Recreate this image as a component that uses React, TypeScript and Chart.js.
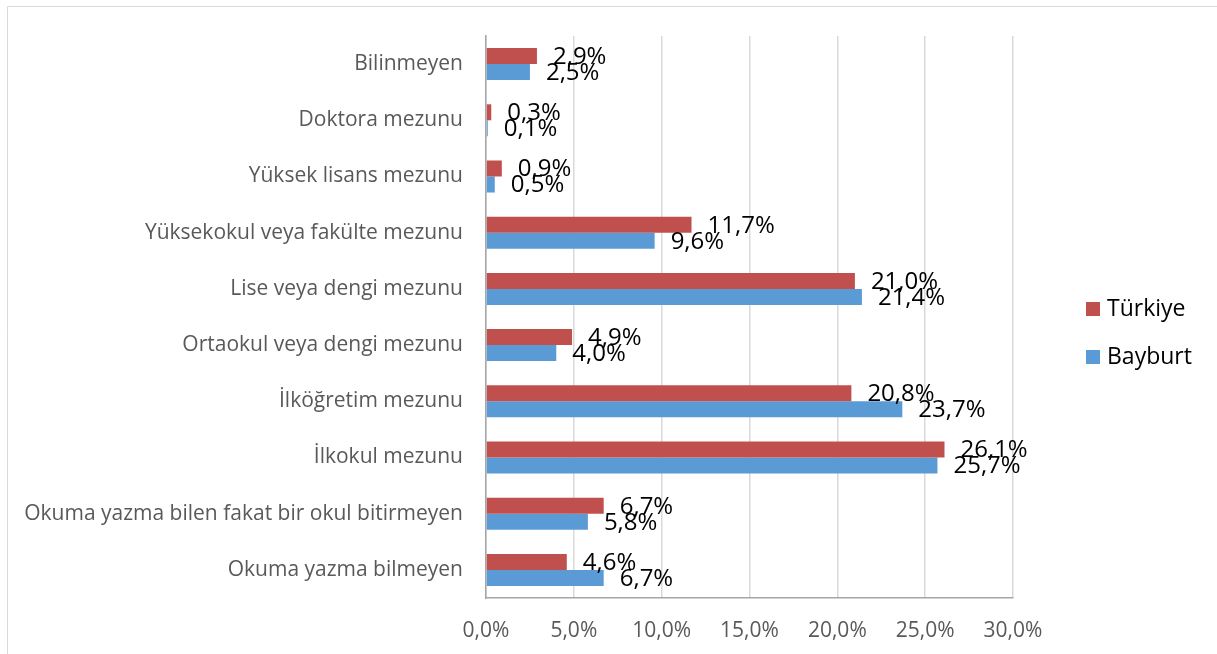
import React, { useEffect, useRef } from "react";
import { Chart, registerables } from "chart.js";

Chart.register(...registerables);

const categories = [
  "Bilinmeyen",
  "Doktora mezunu",
  "Yüksek lisans mezunu",
  "Yüksekokul veya fakülte mezunu",
  "Lise veya dengi mezunu",
  "Ortaokul veya dengi mezunu",
  "İlköğretim mezunu",
  "İlkokul mezunu",
  "Okuma yazma bilen fakat bir okul bitirmeyen",
  "Okuma yazma bilmeyen",
];
const turkiye = [2.9, 0.3, 0.9, 11.7, 21.0, 4.9, 20.8, 26.1, 6.7, 4.6];
const bayburt = [2.5, 0.1, 0.5, 9.6, 21.4, 4.0, 23.7, 25.7, 5.8, 6.7];
const xTicks = [0, 5, 10, 15, 20, 25, 30];

const FONT = "'Open Sans', 'Noto Sans', sans-serif";
const fmt = (v: number) => v.toFixed(1).replace(".", ",") + "%";

const framePlugin = {
  id: "frame",
  beforeDraw(chart: any) {
    const ctx = chart.ctx;
    ctx.save();
    ctx.strokeStyle = "#D9D9D9";
    ctx.lineWidth = 1;
    ctx.beginPath();
    ctx.moveTo(7.5, chart.height);
    ctx.lineTo(7.5, 6.5);
    ctx.lineTo(chart.width, 6.5);
    ctx.stroke();
    ctx.restore();
  },
};

const labelPlugin = {
  id: "valueLabels",
  afterDatasetsDraw(chart: any) {
    const ctx = chart.ctx;
    ctx.save();
    ctx.font = `24px ${FONT}`;
    ctx.fillStyle = "#000000";
    ctx.textAlign = "left";
    ctx.textBaseline = "middle";
    chart.data.datasets.forEach((ds: any, di: number) => {
      const meta = chart.getDatasetMeta(di);
      meta.data.forEach((el: any, i: number) => {
        ctx.fillText(fmt(ds.data[i]), el.x + 16, el.y + 1);
      });
    });
    ctx.restore();
  },
};

const legendPlugin = {
  id: "customLegend",
  afterDraw(chart: any) {
    const ctx = chart.ctx;
    const area = chart.chartArea;
    ctx.save();
    ctx.font = `23px ${FONT}`;
    ctx.textAlign = "left";
    ctx.textBaseline = "middle";
    const baseY = 309;
    chart.data.datasets.forEach((ds: any, i: number) => {
      const y = baseY + i * 48;
      const x = area.right + 73;
      ctx.fillStyle = ds.backgroundColor;
      ctx.fillRect(x, y - 7, 14, 14);
      ctx.fillStyle = "#000000";
      ctx.fillText(ds.label, x + 21, y);
    });
    ctx.restore();
  },
};

export default function App() {
  const ref = useRef<HTMLCanvasElement>(null);
  useEffect(() => {
    if (!ref.current) return;
    const chart = new Chart(ref.current, {
      type: "bar",
      data: {
        labels: categories,
        datasets: [
          { label: "Türkiye", data: turkiye, backgroundColor: "#C0504D", categoryPercentage: 0.57, barPercentage: 1 },
          { label: "Bayburt", data: bayburt, backgroundColor: "#5B9BD5", categoryPercentage: 0.57, barPercentage: 1 },
        ],
      },
      options: {
        indexAxis: "y",
        responsive: false,
        animation: false,
        layout: { padding: { top: 36, right: 204, bottom: 0, left: 0 } },
        plugins: { legend: { display: false }, tooltip: { enabled: false } },
        scales: {
          x: {
            min: 0,
            max: 30,
            afterBuildTicks: (scale: any) => {
              scale.ticks = xTicks.map((v) => ({ value: v }));
            },
            afterFit: (scale: any) => {
              scale.height = 56;
            },
            grid: { color: "#D9D9D9", lineWidth: 1.5, drawTicks: false },
            border: { display: true, color: "#A6A6A6", width: 1.5 },
            ticks: {
              padding: 20,
              color: "#595959",
              font: { family: FONT, size: 21 },
              callback: (v: any) => fmt(Number(v)),
            },
          },
          y: {
            afterFit: (scale: any) => {
              scale.width = 486;
            },
            grid: { display: false, drawTicks: false },
            border: { display: true, color: "#A6A6A6", width: 1.5 },
            ticks: {
              padding: 23,
              color: "#595959",
              font: { family: FONT, size: 21 },
            },
          },
        },
      },
      plugins: [framePlugin, labelPlugin, legendPlugin],
    });
    return () => chart.destroy();
  }, []);
  return (
    <div style={{ position: "absolute", left: 0, top: 0, width: 1217, height: 654, background: "#fff" }}>
      <canvas ref={ref} width={1217} height={654} />
    </div>
  );
}
